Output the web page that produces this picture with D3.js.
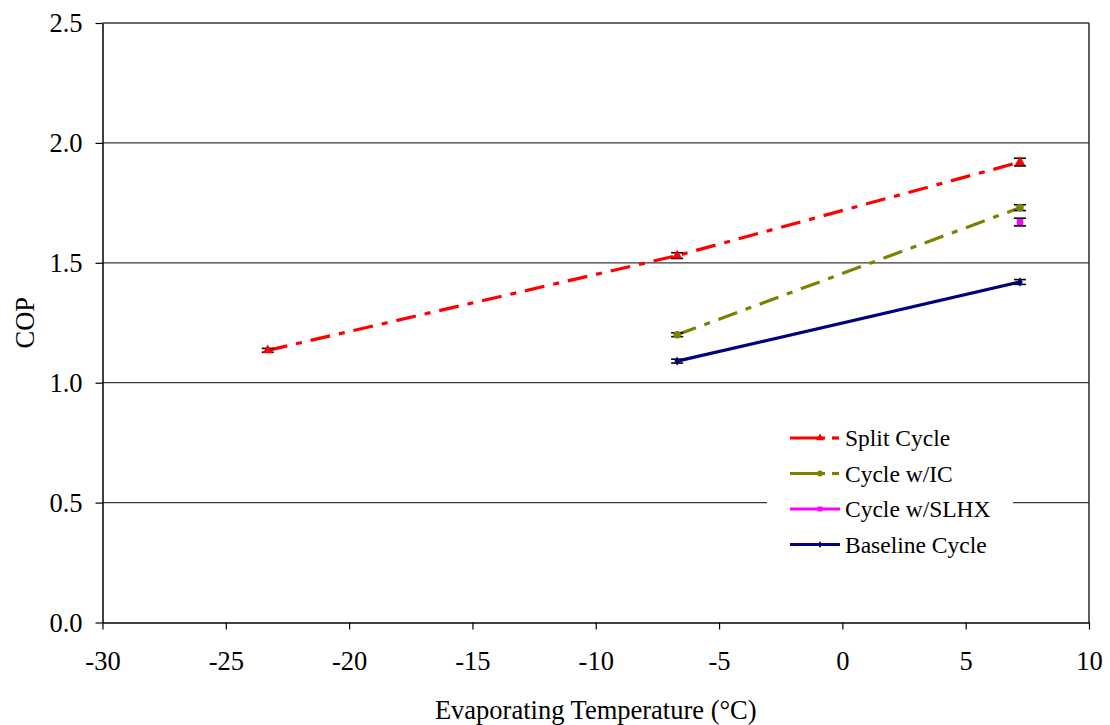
<!DOCTYPE html>
<html>
<head>
<meta charset="utf-8">
<script src="https://cdn.jsdelivr.net/npm/d3@7"></script>
<style>
  body { margin: 0; background: #fff; }
  svg text { font-family: 'Liberation Serif', 'DejaVu Serif', serif !important; }
</style>
</head>
<body>
<div id="chart"></div>
<script>
// data
const xTicks = [-30, -25, -20, -15, -10, -5, 0, 5, 10];
const yTicks = [0, 0.5, 1.0, 1.5, 2.0, 2.5];

const splitTemps = [-23.3, -6.7, 7.2];
const splitCop = [1.135, 1.53, 1.92];
const splitErr = [0.008, 0.012, 0.016];

const icTemps = [-6.7, 7.2];
const icCop = [1.20, 1.73];
const icErr = [0.008, 0.012];

const slhxTemps = [7.2];
const slhxCop = [1.67];
const slhxErr = [0.016];

const baseTemps = [-6.7, 7.2];
const baseCop = [1.09, 1.42];
const baseErr = [0.008, 0.01];

const seriesNames = ['Split Cycle', 'Cycle w/IC', 'Cycle w/SLHX', 'Baseline Cycle'];

// styles per series
const seriesStyle = [
  { color: '#ff0000', dash: '20,9,6,9', marker: 'triangle', size: 45 },
  { color: '#808000', dash: '20,9,6,9', marker: 'circle', size: 45 },
  { color: '#ff00ff', dash: null, marker: 'square', size: 40 },
  { color: '#000080', dash: null, marker: 'diamond', size: 25 },
];

const buildSeries = (temps, cops, errs) => temps.map((t, i) => ({ x: t, y: cops[i], e: errs[i] }));
const series = [
  buildSeries(splitTemps, splitCop, splitErr),
  buildSeries(icTemps, icCop, icErr),
  buildSeries(slhxTemps, slhxCop, slhxErr),
  buildSeries(baseTemps, baseCop, baseErr),
];

const width = 1110;
const height = 725;
const margin = { left: 102.5, right: 1089, top: 23, bottom: 622.5 };
const serif = "'Liberation Serif', 'DejaVu Serif', serif";

const svg = d3.select('#chart')
  .append('svg')
  .attr('width', width)
  .attr('height', height);

const x = d3.scaleLinear().domain([-30, 10]).range([margin.left, margin.right]);
const y = d3.scaleLinear().domain([0, 2.5]).range([margin.bottom, margin.top]);

// gridlines
svg.append('g')
  .selectAll('line')
  .data(yTicks.filter(d => d > 0))
  .enter()
  .append('line')
  .attr('x1', margin.left)
  .attr('x2', margin.right)
  .attr('y1', d => y(d))
  .attr('y2', d => y(d))
  .attr('stroke', '#3a3a3a')
  .attr('stroke-width', 1.3);

// right border
svg.append('line')
  .attr('x1', margin.right)
  .attr('x2', margin.right)
  .attr('y1', margin.top)
  .attr('y2', margin.bottom)
  .attr('stroke', '#2a2a2a')
  .attr('stroke-width', 1.5);

// axes
const xAxis = svg.append('g')
  .attr('transform', `translate(0,${margin.bottom})`)
  .call(d3.axisBottom(x).tickValues(xTicks).tickSize(7).tickSizeOuter(0).tickFormat(d => String(d)));
xAxis.attr('font-family', serif);
xAxis.select('.domain').attr('stroke', '#000').attr('stroke-width', 1.5);
xAxis.selectAll('.tick line').attr('stroke', '#000').attr('stroke-width', 1.2);
xAxis.selectAll('.tick text')
  .attr('y', 29)
  .style('font-family', serif)
  .style('font-size', '26.5px')
  .style('fill', '#000');

const yAxis = svg.append('g')
  .attr('transform', `translate(${margin.left},0)`)
  .call(d3.axisLeft(y).tickValues(yTicks).tickSize(7).tickSizeOuter(0).tickFormat(d3.format('.1f')));
yAxis.attr('font-family', serif);
yAxis.select('.domain').attr('stroke', '#000').attr('stroke-width', 1.5);
yAxis.selectAll('.tick line').attr('stroke', '#000').attr('stroke-width', 1.2);
yAxis.selectAll('.tick text')
  .attr('x', -20)
  .attr('dy', '0.33em')
  .style('font-family', serif)
  .style('font-size', '26.5px')
  .style('fill', '#000');

// axis titles
svg.append('text')
  .attr('x', (margin.left + margin.right) / 2)
  .attr('y', 719)
  .attr('text-anchor', 'middle')
  .style('font-family', serif)
  .style('font-size', '26.5px')
  .text('Evaporating Temperature (°C)');

svg.append('text')
  .attr('transform', `translate(34,${(margin.top + margin.bottom) / 2}) rotate(-90)`)
  .attr('text-anchor', 'middle')
  .style('font-family', serif)
  .style('font-size', '26.5px')
  .text('COP');

const symbolFor = (name) => ({
  triangle: d3.symbolTriangle,
  circle: d3.symbolCircle,
  square: d3.symbolSquare,
  diamond: d3.symbolDiamond,
}[name]);

const line = d3.line().x(d => x(d.x)).y(d => y(d.y));

// series lines, error bars, markers
series.forEach((data, i) => {
  const style = seriesStyle[i];
  const group = svg.append('g');

  if (data.length > 1) {
    group.append('path')
      .datum(data)
      .attr('d', line)
      .attr('fill', 'none')
      .attr('stroke', style.color)
      .attr('stroke-width', 3.2)
      .attr('stroke-dasharray', style.dash);
  }

  const bars = group.selectAll('g.err')
    .data(data)
    .enter()
    .append('g')
    .attr('class', 'err');

  bars.append('line')
    .attr('x1', d => x(d.x))
    .attr('x2', d => x(d.x))
    .attr('y1', d => y(d.y - d.e))
    .attr('y2', d => y(d.y + d.e))
    .attr('stroke', '#000')
    .attr('stroke-width', 1.2);

  ['-', '+'].forEach((sign) => {
    bars.append('line')
      .attr('x1', d => x(d.x) - 6)
      .attr('x2', d => x(d.x) + 6)
      .attr('y1', d => y(sign === '+' ? d.y + d.e : d.y - d.e))
      .attr('y2', d => y(sign === '+' ? d.y + d.e : d.y - d.e))
      .attr('stroke', '#000')
      .attr('stroke-width', 1.6);
  });

  group.selectAll('path.marker')
    .data(data)
    .enter()
    .append('path')
    .attr('class', 'marker')
    .attr('transform', d => `translate(${x(d.x)},${y(d.y)})`)
    .attr('d', d3.symbol().type(symbolFor(style.marker)).size(style.size))
    .attr('fill', style.color);
});

// legend
const legend = svg.append('g').attr('transform', 'translate(767,420)');
legend.append('rect')
  .attr('x', 0)
  .attr('y', 0)
  .attr('width', 246)
  .attr('height', 140)
  .attr('fill', '#fff');

seriesNames.forEach((name, i) => {
  const style = seriesStyle[i];
  const item = legend.append('g').attr('transform', `translate(0,${18 + i * 35.5})`);
  if (style.dash) {
    item.append('line')
      .attr('x1', 23).attr('x2', 58).attr('y1', 0).attr('y2', 0)
      .attr('stroke', style.color).attr('stroke-width', 3.2);
    item.append('line')
      .attr('x1', 65).attr('x2', 72).attr('y1', 0).attr('y2', 0)
      .attr('stroke', style.color).attr('stroke-width', 3.2);
  } else {
    item.append('line')
      .attr('x1', 23).attr('x2', 73).attr('y1', 0).attr('y2', 0)
      .attr('stroke', style.color).attr('stroke-width', 3.2);
  }
  item.append('path')
    .attr('transform', 'translate(53,0)')
    .attr('d', d3.symbol().type(symbolFor(style.marker)).size(style.size * 0.6))
    .attr('fill', style.color);
  item.append('text')
    .attr('x', 78)
    .attr('y', 0)
    .attr('dy', '0.35em')
    .style('font-family', serif)
    .style('font-size', '23.5px')
    .text(name);
});
</script>
</body>
</html>
